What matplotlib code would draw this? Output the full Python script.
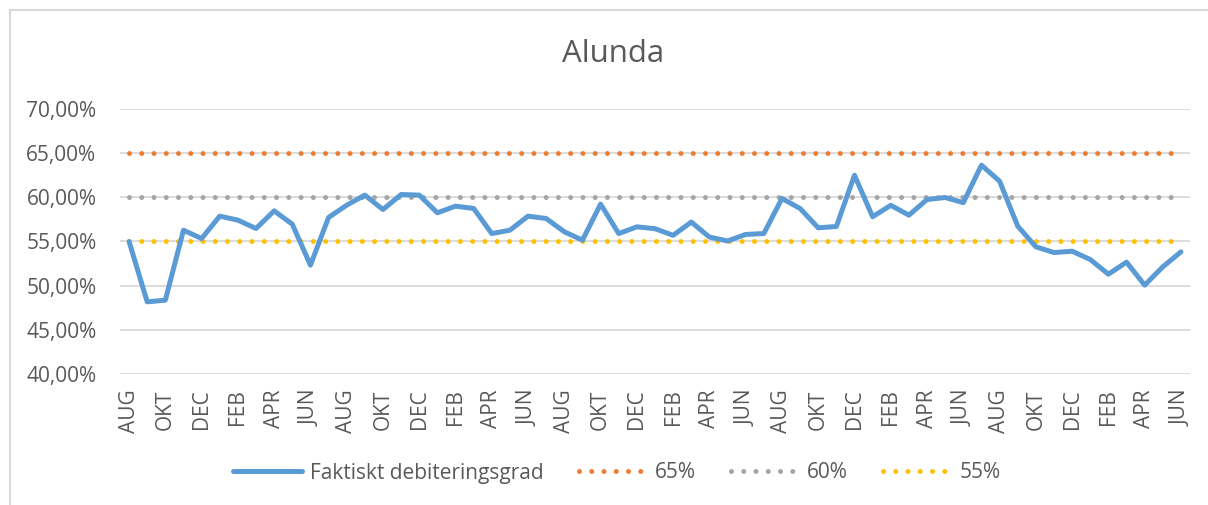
import matplotlib
matplotlib.use("Agg")
import matplotlib.pyplot as plt
from matplotlib.lines import Line2D

plt.rcParams['font.family'] = ['Open Sans', 'DejaVu Sans']

title = "Alunda"
months_cycle = ["AUG", "SEP", "OKT", "NOV", "DEC", "JAN", "FEB", "MAR", "APR", "MAJ", "JUN", "JUL"]
n_points = 59
categories = [months_cycle[i % 12] for i in range(n_points)]

faktiskt = [55.0, 48.17, 48.36, 56.28, 55.34, 57.87, 57.42, 56.47, 58.47, 56.96,
            52.32, 57.72, 59.11, 60.25, 58.62, 60.32, 60.25, 58.25, 59.0, 58.74,
            55.9, 56.28, 57.87, 57.6, 56.1, 55.15, 59.23, 55.9, 56.66, 56.45,
            55.7, 57.2, 55.5, 55.06, 55.8, 55.9, 59.87, 58.74, 56.55, 56.7,
            62.5, 57.8, 59.1, 57.98, 59.75, 59.98, 59.4, 63.64, 61.83, 56.74,
            54.4, 53.75, 53.9, 52.96, 51.3, 52.66, 50.06, 52.13, 53.83]
target_levels = [65, 60, 55]
target_labels = ["65%", "60%", "55%"]
series_label = "Faktiskt debiteringsgrad"
y_ticks = [40, 45, 50, 55, 60, 65, 70]

W, H = 1208, 505
fig = plt.figure(figsize=(W / 100, H / 100), dpi=100)
ax = fig.add_axes([120 / W, 1 - 374 / H, (1190 - 120) / W, (374 - 109) / H])

text_color = "#595959"
grid_color = "#D9D9D9"
target_colors = ["#ED7D31", "#A5A5A5", "#FFC000"]

x = list(range(len(faktiskt)))
dot_style = (0, (0.001, 2.45))

handles = []
h_main, = ax.plot(x, faktiskt, color="#5B9BD5", lw=3.6, solid_joinstyle="round",
                  solid_capstyle="round", zorder=5, label=series_label)
handles.append(h_main)
for lvl, lab, col in zip(target_levels, target_labels, target_colors):
    h, = ax.plot(x, [lvl] * len(x), color=col, lw=3.6, linestyle=dot_style,
                 dash_capstyle="round", zorder=4, label=lab)
    handles.append(h)

ax.set_xlim(-0.5, len(x) - 0.5)
ax.set_ylim(40, 70)
ax.set_yticks(y_ticks)
ax.set_yticklabels([f"{v:.2f}".replace(".", ",") + "%" for v in y_ticks])
tick_pos = list(range(0, len(x), 2))
ax.set_xticks(tick_pos)
ax.set_xticklabels([categories[i] for i in tick_pos], rotation=90, va="top", ha="center")

ax.yaxis.grid(True, color=grid_color, lw=1.3, zorder=0)
ax.xaxis.grid(False)
for s in ax.spines.values():
    s.set_visible(False)
ax.tick_params(axis="both", length=0, colors=text_color, labelsize=15)
ax.tick_params(axis="y", pad=17)
ax.tick_params(axis="x", pad=11)

fig.text(613 / W, 1 - 54 / H, title, ha="center", va="center", fontsize=22.5, color=text_color)

leg = fig.legend(handles=handles, loc="center", bbox_to_anchor=(617 / W, 1 - 473 / H),
                 ncol=4, frameon=False, fontsize=15, handlelength=3.3, handletextpad=0.35,
                 columnspacing=1.7, labelcolor=text_color)

# chart border (left and top visible)
fig.add_artist(Line2D([9.5 / W, 9.5 / W], [0, 1 - 10 / H], transform=fig.transFigure,
                      color=grid_color, lw=1.5))
fig.add_artist(Line2D([9.5 / W, 1], [1 - 10 / H, 1 - 10 / H], transform=fig.transFigure,
                      color=grid_color, lw=1.5))

fig.savefig("out.png", dpi=100, facecolor="white")
